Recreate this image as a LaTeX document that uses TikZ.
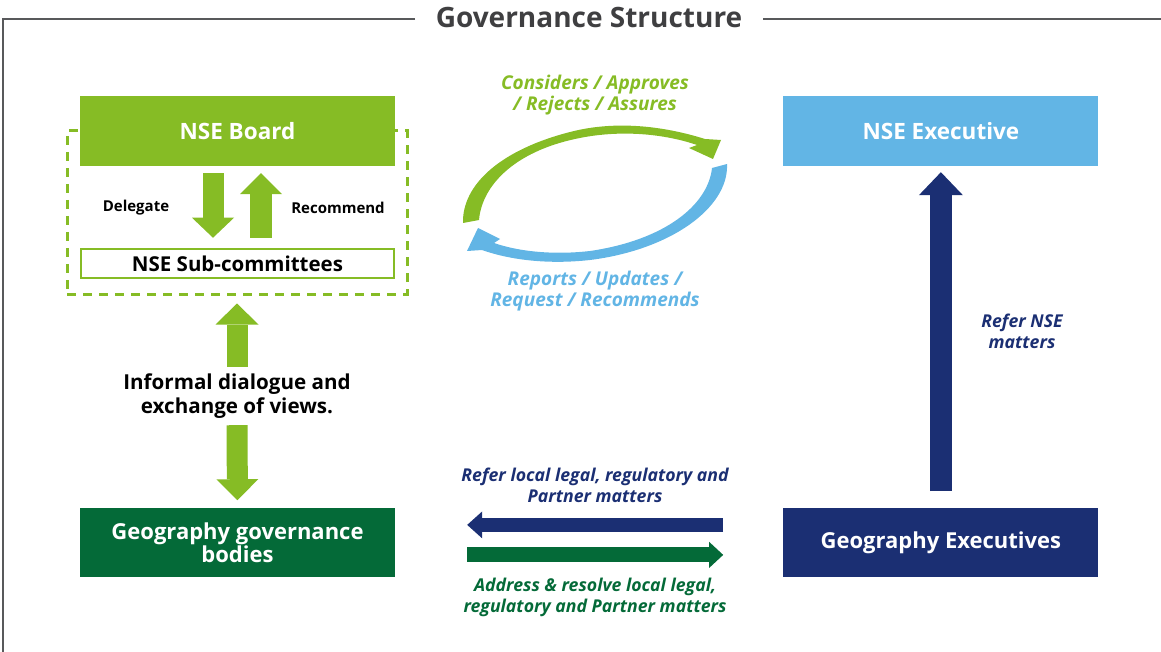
\documentclass[tikz,border=0pt]{standalone}
\usepackage{fontspec}
\setmainfont{Open Sans}
\usepackage{tikz}
\usetikzlibrary{arrows.meta,positioning}
\usepackage{xcolor}

\definecolor{nselime}{HTML}{86BC25}
\definecolor{nsedeep}{HTML}{046A38}
\definecolor{nsesky}{HTML}{62B5E5}
\definecolor{nsenavy}{HTML}{1B2F73}
\definecolor{framegrey}{HTML}{58595B}
\definecolor{titlegrey}{HTML}{3F3F41}

\tikzset{
	govbox/.style={rectangle,minimum width=315pt,inner sep=2pt,align=center,
		text=white,font=\fontsize{22.5}{25}\selectfont\bfseries},
	flowlabel/.style={align=center,font=\fontsize{17.7}{21}\selectfont\bfseries\itshape},
	cyclelabel/.style={align=center,font=\fontsize{19}{21}\selectfont\bfseries\itshape},
	fatarrow/.style={line width=#1,line cap=butt},
}

\begin{document}
\begin{tikzpicture}[x=1pt,y=-1pt]
	\useasboundingbox (0,0) rectangle (1161,652);
	% frame and heading
	\node (title) at (589,18) [text=titlegrey,font=\fontsize{28}{32}\selectfont\bfseries] {Governance Structure};
	\draw [framegrey,line width=2] (415,19) -- (3,19) -- (3,652);
	\draw [framegrey,line width=2] (763,19) -- (1161,19);

	% board side
	\node (group) at (237,212.5) [rectangle,draw=nselime,line width=3,dash pattern=on 9pt off 7pt,minimum width=340pt,minimum height=163pt] {};
	\node (board) at (237.5,131) [govbox,fill=nselime,minimum height=70pt] {NSE Board};
	\node (subs) at (237.5,263.5) [govbox,draw=nselime,line width=2.5,fill=white,text=black,minimum width=313pt,minimum height=29pt,font=\fontsize{20.5}{24}\selectfont\bfseries] {NSE Sub-committees};
	\draw [nselime,fatarrow=21,shorten <=7,shorten >=10,-{Triangle[width=42pt,length=20pt,line width=0pt]}] ([xshift=-24.5]board.south) -- ([xshift=-24.5]subs.north);
	\draw [nselime,fatarrow=22,shorten <=10,shorten >=7,-{Triangle[width=42pt,length=21pt,line width=0pt]}] ([xshift=23.5]subs.north) -- ([xshift=23.5]board.south);
	\node (delegate) at (136,208) [font=\fontsize{15}{18}\selectfont\bfseries] {Delegate};
	\node (recommend) at (338,208) [font=\fontsize{15}{18}\selectfont\bfseries] {Recommend};

	\node (geobodies) [govbox,fill=nsedeep,minimum height=69pt,below=342pt of board,font=\fontsize{22}{25}\selectfont\bfseries] {Geography governance\\[-2pt]bodies};
	\node (informal) at (237,396) [align=center,minimum height=58pt,inner sep=0pt,font=\fontsize{20.6}{24}\selectfont\bfseries] {Informal dialogue and\\exchange of views.};
	\draw [nselime,fatarrow=21,shorten >=8,-{Triangle[width=43pt,length=21pt,line width=0pt]}] (informal.north) -- (group.south);
	\draw [nselime,fatarrow=21,shorten >=8,-{Triangle[width=42pt,length=21pt,line width=0pt]}] (informal.south) -- (geobodies.north);

	% executive side
	\node (exec) [govbox,fill=nsesky,minimum height=70pt,right=388pt of board] {NSE Executive};
	\node (execgeo) [govbox,fill=nsenavy,minimum height=69pt,right=388pt of geobodies,font=\fontsize{22}{25}\selectfont\bfseries] {Geography Executives};
	\draw [nsenavy,fatarrow=22,shorten <=17,shorten >=6,-{Triangle[width=44pt,length=23pt,line width=0pt]}] (execgeo.north) -- (exec.south);
	\node (refernse) at (1022,331) [flowlabel,text=nsenavy] {Refer NSE\\matters};

	% local matters, both ways
	\draw [nsenavy,fatarrow=14,shorten <=60,shorten >=72,-{Triangle[width=27pt,length=15pt,line width=0pt]}] ([yshift=18]execgeo.west) -- ([yshift=18]geobodies.east);
	\draw [nsedeep,fatarrow=15,shorten <=72,shorten >=60,-{Triangle[width=26pt,length=14pt,line width=0pt]}] ([yshift=-12]geobodies.east) -- ([yshift=-12]execgeo.west);
	\node (referlocal) at (595,485) [flowlabel,text=nsenavy] {Refer local legal, regulatory and\\Partner matters};
	\node (resolve) at (595,597) [flowlabel,text=nsedeep] {Address \& resolve local legal,\\regulatory and Partner matters};

	% board <-> executive cycle
	\fill [nselime] (463,223) .. controls (462,185) and (500,150) .. (570,132) .. controls (620,119) and (670,128) .. (705,139) -- (721,140) -- (713,159) -- (689,148) -- (697,145) .. controls (665,134) and (620,129) .. (575,139) .. controls (515,152) and (482,185) .. (479,220) -- cycle;
	\fill [nsesky] (727,164) .. controls (729,208) and (670,250) .. (590,260) .. controls (545,265) and (507,259) .. (482,250) -- (467,251) -- (478,228) -- (500,239) -- (494,243) .. controls (520,252) and (555,255) .. (590,251) .. controls (665,240) and (708,205) .. (712,168) -- cycle;
	\node (considers) at (595,95) [cyclelabel,text=nselime] {Considers / Approves\\/ Rejects / Assures};
	\node (reports) at (595,291) [cyclelabel,text=nsesky] {Reports / Updates /\\Request / Recommends};
\end{tikzpicture}
\end{document}
